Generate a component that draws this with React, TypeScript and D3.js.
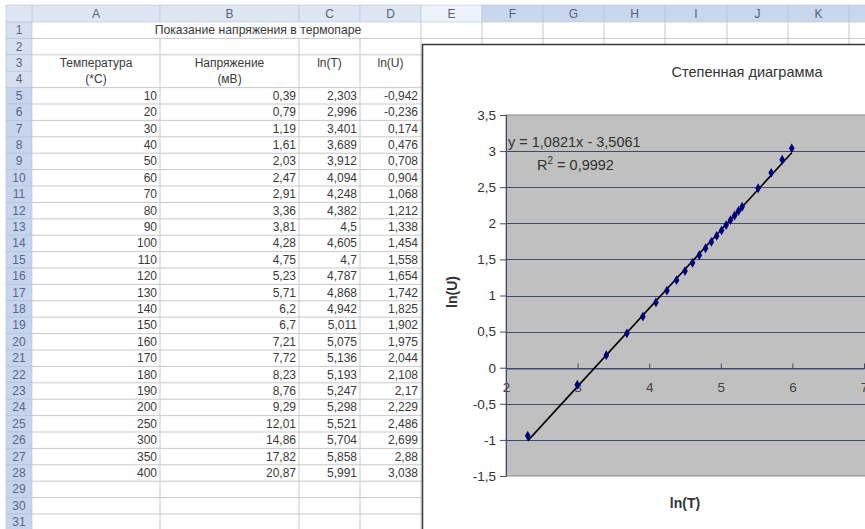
import { useEffect, useRef } from "react";
import * as d3 from "d3";

// table data (read from the sheet)
const temperature = [10, 20, 30, 40, 50, 60, 70, 80, 90, 100, 110, 120, 130, 140, 150, 160, 170, 180, 190, 200, 250, 300, 350, 400];
const voltage = [0.39, 0.79, 1.19, 1.61, 2.03, 2.47, 2.91, 3.36, 3.81, 4.28, 4.75, 5.23, 5.71, 6.2, 6.7, 7.21, 7.72, 8.23, 8.76, 9.29, 12.01, 14.86, 17.82, 20.87];
const lnT = [2.303, 2.996, 3.401, 3.689, 3.912, 4.094, 4.248, 4.382, 4.5, 4.605, 4.7, 4.787, 4.868, 4.942, 5.011, 5.075, 5.136, 5.193, 5.247, 5.298, 5.521, 5.704, 5.858, 5.991];
const lnU = [-0.942, -0.236, 0.174, 0.476, 0.708, 0.904, 1.068, 1.212, 1.338, 1.454, 1.558, 1.654, 1.742, 1.825, 1.902, 1.975, 2.044, 2.108, 2.17, 2.229, 2.486, 2.699, 2.88, 3.038];

const columns = ["A", "B", "C", "D", "E", "F", "G", "H", "I", "J", "K", "L"];
const xTicks = [2, 3, 4, 5, 6, 7];
const yTicks = [-1.5, -1, -0.5, 0, 0.5, 1, 1.5, 2, 2.5, 3, 3.5];

const slope = 1.0821;
const intercept = -3.5061;

const fmt = (v: number) => String(v).replace(".", ",");
const FONT = "Arial, 'Liberation Sans', sans-serif";

const App = () => {
  const svgRef = useRef<SVGSVGElement | null>(null);

  useEffect(() => {
    if (!svgRef.current) return;
    const svg = d3.select(svgRef.current);
    svg.selectAll("*").remove();

    const W = 865;
    const H = 529;

    // sheet geometry
    const colEdges = [32, 160, 299, 360, 421, 482, 543, 604, 665, 727, 788, 849, 940];
    const headTop = 5;
    const headBottom = 22;
    const rowH = 16.4;
    const rowTop = (r: number) => headBottom + (r - 1) * rowH;
    const rowMid = (r: number) => rowTop(r) + rowH / 2 + 4;

    svg.append("rect").attr("width", W).attr("height", H).attr("fill", "#fff");

    const sheet = svg.append("g");

    // column headers
    columns.forEach((c, i) => {
      const x0 = colEdges[i];
      const x1 = colEdges[i + 1];
      sheet
        .append("rect")
        .attr("x", x0)
        .attr("y", headTop)
        .attr("width", x1 - x0)
        .attr("height", headBottom - headTop)
        .attr("fill", i < 4 ? "#dfe6f3" : i === 4 ? "#eef2fa" : "#c8d6ee")
        .attr("stroke", "#b7c3d9")
        .attr("stroke-width", 0.6);
      if (x1 <= W)
        sheet
          .append("text")
          .attr("x", (x0 + x1) / 2)
          .attr("y", headBottom - 4)
          .attr("text-anchor", "middle")
          .attr("font-family", FONT)
          .attr("font-size", 12)
          .attr("fill", "#59627a")
          .text(c);
    });
    sheet
      .append("rect")
      .attr("x", 6)
      .attr("y", headTop)
      .attr("width", 26)
      .attr("height", headBottom - headTop)
      .attr("fill", "#dfe6f3")
      .attr("stroke", "#b7c3d9")
      .attr("stroke-width", 0.6);

    // row headers
    d3.range(1, 32).forEach((r) => {
      sheet
        .append("rect")
        .attr("x", 6)
        .attr("y", rowTop(r))
        .attr("width", 26)
        .attr("height", rowH)
        .attr("fill", r < 5 ? "#d6dff0" : "#c6d4ed")
        .attr("stroke", "#b3c0d8")
        .attr("stroke-width", 0.6);
      sheet
        .append("text")
        .attr("x", 19)
        .attr("y", rowMid(r))
        .attr("text-anchor", "middle")
        .attr("font-family", FONT)
        .attr("font-size", 12)
        .attr("fill", "#5b6782")
        .text(r);
    });

    // grid lines
    const grid = sheet.append("g").attr("stroke", "#c9c9c9").attr("stroke-width", 1);
    d3.range(1, 32).forEach((r) => {
      const x1 = r === 3 ? colEdges[4] : 32;
      grid
        .append("line")
        .attr("x1", x1)
        .attr("x2", W)
        .attr("y1", rowTop(r) + rowH)
        .attr("y2", rowTop(r) + rowH);
    });
    colEdges.slice(1).forEach((x, i) => {
      const y0 = i < 3 ? rowTop(2) : headBottom;
      grid.append("line").attr("x1", x).attr("x2", x).attr("y1", y0).attr("y2", H);
    });

    const cellText = (txt: string, col: number, row: number, align: "middle" | "end") => {
      const x0 = colEdges[col];
      const x1 = colEdges[col + 1];
      sheet
        .append("text")
        .attr("x", align === "middle" ? (x0 + x1) / 2 : x1 - 3)
        .attr("y", rowMid(row))
        .attr("text-anchor", align)
        .attr("font-family", FONT)
        .attr("font-size", 12)
        .attr("fill", "#3a3a3a")
        .text(txt);
    };

    // merged title A1:D1
    sheet
      .append("text")
      .attr("x", 258)
      .attr("y", rowMid(1))
      .attr("text-anchor", "middle")
      .attr("font-family", FONT)
      .attr("font-size", 12.2)
      .attr("fill", "#3a3a3a")
      .text("Показание напряжения в термопаре");

    cellText("Температура", 0, 3, "middle");
    cellText("(*C)", 0, 4, "middle");
    cellText("Напряжение", 1, 3, "middle");
    cellText("(мВ)", 1, 4, "middle");
    cellText("ln(T)", 2, 3, "middle");
    cellText("ln(U)", 3, 3, "middle");

    temperature.forEach((t, i) => {
      const row = 5 + i;
      cellText(fmt(t), 0, row, "end");
      cellText(fmt(voltage[i]), 1, row, "end");
      cellText(fmt(lnT[i]), 2, row, "end");
      cellText(fmt(lnU[i]), 3, row, "end");
    });

    // ---- chart ----
    const chart = svg.append("g");
    chart
      .append("rect")
      .attr("x", 422.5)
      .attr("y", 44.5)
      .attr("width", 480)
      .attr("height", 520)
      .attr("fill", "#fff")
      .attr("stroke", "#3a3a3a")
      .attr("stroke-width", 1.5);

    chart
      .append("text")
      .attr("x", 747)
      .attr("y", 77)
      .attr("text-anchor", "middle")
      .attr("font-family", FONT)
      .attr("font-size", 14.5)
      .attr("fill", "#333")
      .text("Степенная диаграмма");

    const x = d3.scaleLinear().domain([2, 7]).range([506, 864]);
    const y = d3.scaleLinear().domain([-1.5, 3.5]).range([476, 115]);

    chart
      .append("rect")
      .attr("x", x(2))
      .attr("y", y(3.5))
      .attr("width", x(7) - x(2) + 10)
      .attr("height", y(-1.5) - y(3.5))
      .attr("fill", "#c0c0c0")
      .attr("stroke", "#8a8a8a")
      .attr("stroke-width", 1);

    // horizontal gridlines
    chart
      .append("g")
      .selectAll("line")
      .data(yTicks.filter((v) => v > -1.5 && v < 3.5))
      .join("line")
      .attr("x1", x(2))
      .attr("x2", W)
      .attr("y1", (d) => Math.round(y(d)) + 0.5)
      .attr("y2", (d) => Math.round(y(d)) + 0.5)
      .attr("stroke", "#3f4a6a")
      .attr("stroke-width", 1);

    // y axis
    const yAxis = chart
      .append("g")
      .attr("transform", `translate(${x(2)},0)`)
      .call(
        d3
          .axisLeft(y)
          .tickValues(yTicks)
          .tickSize(6)
          .tickPadding(4)
          .tickFormat((d) => fmt(+d))
      );
    yAxis.select(".domain").attr("stroke", "#3f4a6a");
    yAxis.selectAll("line").attr("stroke", "#3f4a6a");
    yAxis
      .selectAll("text")
      .attr("font-family", FONT)
      .attr("font-size", 13.5)
      .attr("fill", "#333");

    // x axis at y = 0
    const xAxis = chart
      .append("g")
      .attr("transform", `translate(0,${Math.round(y(0)) + 0.5})`)
      .call(
        d3
          .axisBottom(x)
          .tickValues(xTicks)
          .tickSizeInner(-5)
          .tickSizeOuter(0)
          .tickPadding(14)
          .tickFormat((d) => String(d))
      );
    xAxis.select(".domain").attr("stroke", "#3f4a6a");
    xAxis.selectAll("line").attr("stroke", "#3f4a6a");
    xAxis
      .selectAll("text")
      .attr("font-family", FONT)
      .attr("font-size", 13.5)
      .attr("fill", "#444");

    // trendline
    const tx = d3.extent(lnT) as [number, number];
    chart
      .append("line")
      .attr("x1", x(tx[0]))
      .attr("y1", y(slope * tx[0] + intercept))
      .attr("x2", x(tx[1]))
      .attr("y2", y(slope * tx[1] + intercept))
      .attr("stroke", "#000")
      .attr("stroke-width", 1.6);

    // points
    const diamond = d3.symbol(d3.symbolDiamond, 28);
    chart
      .append("g")
      .selectAll("path")
      .data(lnT.map((v, i) => [v, lnU[i]]))
      .join("path")
      .attr("d", diamond)
      .attr("transform", (d) => `translate(${x(d[0])},${y(d[1])})`)
      .attr("fill", "#000080");

    // equation
    chart
      .append("text")
      .attr("x", 508)
      .attr("y", 147)
      .attr("font-family", FONT)
      .attr("font-size", 14.5)
      .attr("fill", "#333")
      .text(`y = ${fmt(slope)}x - ${fmt(-intercept)}`);
    const r2 = chart
      .append("text")
      .attr("x", 537)
      .attr("y", 170)
      .attr("font-family", FONT)
      .attr("font-size", 14.5)
      .attr("fill", "#333");
    r2.append("tspan").text("R");
    r2.append("tspan").attr("font-size", 10).attr("dy", -6).text("2");
    r2.append("tspan").attr("dy", 6).text(" = 0,9992");

    // axis titles
    chart
      .append("text")
      .attr("transform", `translate(457,292) rotate(-90)`)
      .attr("text-anchor", "middle")
      .attr("font-family", FONT)
      .attr("font-size", 14)
      .attr("font-weight", "bold")
      .attr("fill", "#333")
      .text("ln(U)");
    chart
      .append("text")
      .attr("x", 685)
      .attr("y", 508)
      .attr("text-anchor", "middle")
      .attr("font-family", FONT)
      .attr("font-size", 14)
      .attr("font-weight", "bold")
      .attr("fill", "#333")
      .text("ln(T)");
  }, []);

  return (
    <div style={{ position: "absolute", left: 0, top: 0, width: 865, height: 529, overflow: "hidden" }}>
      <svg ref={svgRef} width={865} height={529} style={{ display: "block" }}></svg>
    </div>
  );
};

export default App;
